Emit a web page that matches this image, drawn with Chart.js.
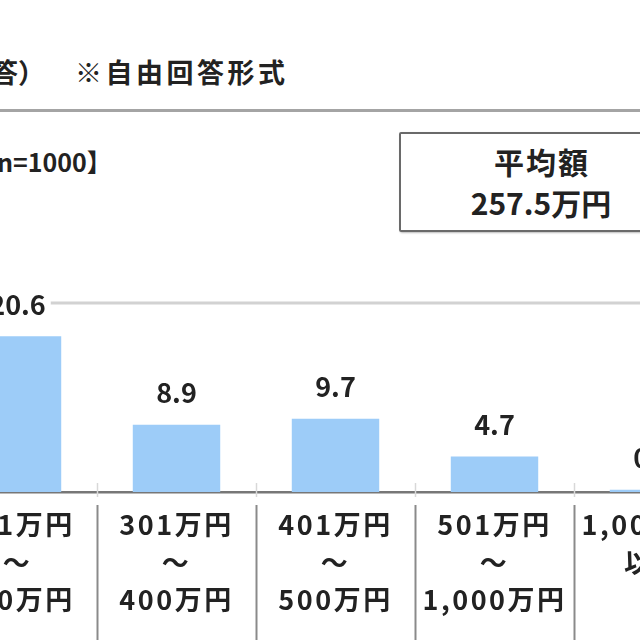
<!DOCTYPE html>
<html lang="ja">
<head>
<meta charset="utf-8">
<script src="https://cdn.jsdelivr.net/npm/chart.js@4.4.1/dist/chart.umd.min.js"></script>
<style>
  html, body { margin: 0; padding: 0; background: #fff; }
  body { width: 640px; height: 640px; overflow: hidden; position: relative;
         font-family: "Noto Sans CJK JP", "Noto Sans", sans-serif; font-weight: bold; color: #222; }
  .txt { position: absolute; white-space: nowrap; line-height: 1; }
  #rule { position: absolute; left: 0; top: 109px; width: 640px; height: 3px; background: #a4a4a4; }
  #avg { position: absolute; left: 399px; top: 132px; width: 280px; height: 96px;
         border: 2px solid #6a6a6a; border-radius: 2px; box-shadow: 1px 1px 2px #bbb; }
  #avg div { position: absolute; left: 0; right: 0; text-align: center; white-space: nowrap;
             line-height: 1; font-size: 30px; }
  #chartWrap { position: absolute; left: -62px; top: 280px; width: 795px; height: 360px; }
</style>
</head>
<body>
<div class="txt" style="left:-9px; top:58px; font-size:27px;">答）</div>
<div class="txt" style="left:75px; top:58px; font-size:27px; letter-spacing:3.5px;">※自由回答形式</div>
<div id="rule"></div>
<div class="txt" style="left:-3px; top:149px; font-size:25px;">n=1000】</div>
<div id="avg">
  <div style="top:12px; letter-spacing:2px; text-indent:2px;">平均額</div>
  <div style="top:53px;">257.5万円</div>
</div>
<div id="chartWrap"><canvas id="chart" width="795" height="360"></canvas></div>

<script>
// 年収別（万円）の割合 %
const categories = [
    ['201万円', '～', '300万円'],
    ['301万円', '～', '400万円'],
    ['401万円', '～', '500万円'],
    ['501万円', '～', '1,000万円'],
    ['1,001万円', '以上']
];
const values = [20.6, 8.9, 9.7, 4.7, 0.3];
const yMax = 25;

const FONT = '"Noto Sans CJK JP", "Noto Sans", sans-serif';

// 区切り線・上端の罫線・数値ラベル
const decorPlugin = {
    id: 'decor',
    beforeDraw(chart) {
        // 目盛ラベルの字間を少し広げる
        chart.ctx.letterSpacing = '2.5px';
    },
    beforeDatasetsDraw(chart) {
        const { ctx, chartArea } = chart;
        const y = chart.scales.y;
        const top = y.getPixelForValue(yMax);
        ctx.save();
        ctx.strokeStyle = '#d2d2d2';
        ctx.lineWidth = 3;
        ctx.beginPath();
        ctx.moveTo(chartArea.left, top);
        ctx.lineTo(chartArea.right, top);
        ctx.stroke();
        ctx.restore();
    },
    afterDraw(chart) {
        const { ctx } = chart;
        const x = chart.scales.x;
        const base = chart.scales.y.getPixelForValue(0);
        ctx.save();
        ctx.letterSpacing = '0px';
        for (let i = 1; i < categories.length; i++) {
            const bx = Math.round((x.getPixelForValue(i - 1) + x.getPixelForValue(i)) / 2) + 0.5;
            ctx.strokeStyle = '#d8d8d8';
            ctx.lineWidth = 1.5;
            ctx.beginPath();
            ctx.moveTo(bx, base - 9);
            ctx.lineTo(bx, base + 5);
            ctx.stroke();
            ctx.strokeStyle = '#8a8a8a';
            ctx.lineWidth = 2;
            ctx.beginPath();
            ctx.moveTo(bx, base + 13);
            ctx.lineTo(bx, chart.height);
            ctx.stroke();
        }
        const meta = chart.getDatasetMeta(0);
        ctx.font = 'bold 27px ' + FONT;
        ctx.textAlign = 'center';
        ctx.textBaseline = 'middle';
        meta.data.forEach((bar, i) => {
            const label = values[i].toFixed(1);
            const cy = bar.y - 33;
            const w = ctx.measureText(label).width;
            ctx.fillStyle = '#fff';
            ctx.fillRect(bar.x - w / 2 - 5, cy - 15, w + 10, 30);
            ctx.fillStyle = '#222';
            ctx.fillText(label, bar.x, cy + 1);
        });
        ctx.restore();
    }
};

new Chart(document.getElementById('chart'), {
    type: 'bar',
    data: {
        labels: categories,
        datasets: [{
            data: values,
            backgroundColor: '#9dccf8',
            borderWidth: 0,
            barPercentage: 0.55,
            categoryPercentage: 1
        }]
    },
    options: {
        responsive: false,
        animation: false,
        layout: { padding: { top: 23, left: 0, right: 0, bottom: 0 } },
        plugins: { legend: { display: false }, tooltip: { enabled: false } },
        scales: {
            x: {
                grid: { display: false, drawTicks: false },
                border: { display: true, color: '#777', width: 2.5 },
                ticks: {
                    padding: 14,
                    color: '#222',
                    font: { family: FONT, size: 27, weight: 'bold', lineHeight: 1.39 },
                    maxRotation: 0,
                    autoSkip: false
                },
                afterFit(scale) { scale.height = 148; }
            },
            y: {
                display: false,
                min: 0,
                max: yMax
            }
        }
    },
    plugins: [decorPlugin]
});
</script>
</body>
</html>
